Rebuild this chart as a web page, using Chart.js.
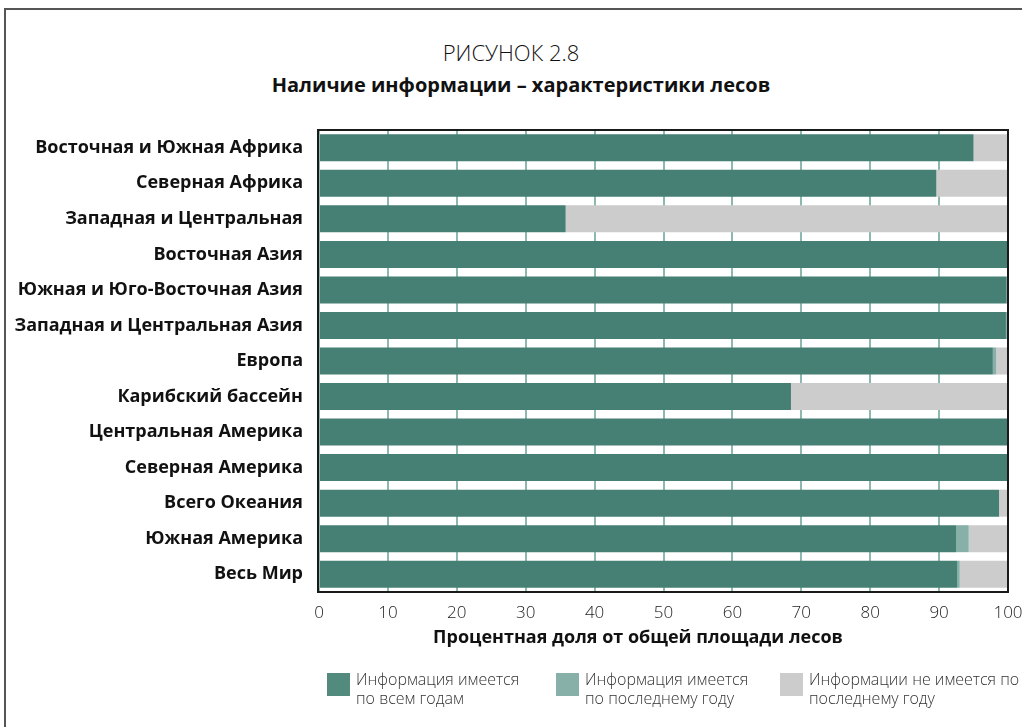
<!DOCTYPE html>
<html lang="ru">
<head>
<meta charset="utf-8">
<script src="https://cdn.jsdelivr.net/npm/chart.js@4"></script>
<style>
  html, body { margin: 0; padding: 0; background: #fff; }
  body { width: 1022px; height: 727px; position: relative; overflow: hidden; font-family: "Open Sans", "Noto Sans", sans-serif; color: #111; }
  #frame { position: absolute; left: 4px; top: 8px; width: 1100px; height: 800px; border: 2px solid #555; box-sizing: border-box; }
  #chartBox { position: absolute; left: 0; top: 0; width: 1022px; height: 727px; }
  .title1 { position: absolute; top: 37px; left: 0; width: 1022px; text-align: center; font-size: 22px; font-weight: 300; }
  .title2 { position: absolute; top: 71px; left: 10px; width: 1022px; text-align: center; font-size: 20px; font-weight: 700; }
  .legend-item { position: absolute; top: 673px; }
  .legend-item .box { position: absolute; left: 0; top: 0; width: 23px; height: 23px; }
  .legend-item .txt { position: absolute; left: 29px; top: -3px; font-size: 16px; line-height: 19px; font-weight: 300; color: #333; white-space: nowrap; }
</style>
</head>
<body>
<div id="frame"></div>
<div class="title1">РИСУНОК 2.8</div>
<div class="title2">Наличие информации – характеристики лесов</div>
<div id="chartBox"><canvas id="forestChart" width="1022" height="727"></canvas></div>
<div id="legend"></div>

<script>
// regions, top to bottom
const regions = [
    "Восточная и Южная Африка",
    "Северная Африка",
    "Западная и Центральная",
    "Восточная Азия",
    "Южная и Юго-Восточная Азия",
    "Западная и Центральная Азия",
    "Европа",
    "Карибский бассейн",
    "Центральная Америка",
    "Северная Америка",
    "Всего Океания",
    "Южная Америка",
    "Весь Мир"
];

// % of forest area
const allYears   = [95.0, 89.6, 35.8, 100, 99.8, 99.7, 97.8, 68.5, 100, 100, 98.7, 92.5, 92.6];
const latestYear = [0,    0,    0,    0,   0.2,  0.3,  0.5,  0,    0,   0,   0,    1.8,  0.4];
const noInfo     = [5.0,  10.4, 64.2, 0,   0,    0,    1.7,  31.5, 0,   0,   1.3,  5.7,  7.0];

const xTicks = [0, 10, 20, 30, 40, 50, 60, 70, 80, 90, 100];

const seriesNames = [
    ["Информация имеется", "по всем годам"],
    ["Информация имеется", "по последнему году"],
    ["Информации не имеется по", "последнему году"]
];
const barColors = ["#467f73", "#86b0a8", "#cccccc"];
const legendColors = ["#528a7e", "#86b0a8", "#cccccc"];
const legendX = [327, 556, 780];

// legend under the chart
const legendEl = document.getElementById('legend');
seriesNames.forEach(function (name, i) {
    const item = document.createElement('div');
    item.className = 'legend-item';
    item.style.left = legendX[i] + 'px';
    item.innerHTML = '<div class="box" style="background:' + legendColors[i] + '"></div>' +
        '<div class="txt">' + name.join('<br>') + '</div>';
    legendEl.appendChild(item);
});

// frame around the plot area + axis title
const plotFrame = {
    id: 'plotFrame',
    afterDatasetsDraw(chart) {
        const a = chart.chartArea;
        const c = chart.ctx;
        c.save();
        c.strokeStyle = '#1a1a1a';
        c.lineWidth = 2;
        c.strokeRect(a.left - 1, a.top, a.right - a.left + 1, a.bottom - a.top);
        c.restore();
    },
    afterDraw(chart) {
        const c = chart.ctx;
        c.save();
        c.font = 'bold 18px "Open Sans", "Noto Sans", sans-serif';
        c.fillStyle = '#111';
        c.textAlign = 'center';
        c.textBaseline = 'middle';
        c.fillText('Процентная доля от общей площади лесов', 638, 638);
        c.restore();
    }
};

const ctx = document.getElementById('forestChart').getContext('2d');
const chart = new Chart(ctx, {
    type: 'bar',
    data: {
        labels: regions,
        datasets: [
            { label: seriesNames[0].join(' '), data: allYears,   backgroundColor: barColors[0] },
            { label: seriesNames[1].join(' '), data: latestYear, backgroundColor: barColors[1] },
            { label: seriesNames[2].join(' '), data: noInfo,     backgroundColor: barColors[2] }
        ]
    },
    options: {
        indexAxis: 'y',
        responsive: false,
        animation: false,
        layout: {
            padding: { top: 130, right: 14, bottom: 95, left: 0 }
        },
        datasets: {
            bar: { categoryPercentage: 0.76, barPercentage: 1, borderWidth: 0 }
        },
        scales: {
            x: {
                stacked: true,
                min: 0,
                max: 100,
                afterFit: function (scale) {
                    scale.height = 40;
                    // let the "100" label hang past the plot edge
                    scale.paddingRight = 0;
                    scale.paddingLeft = 0;
                },
                afterBuildTicks: function (scale) {
                    scale.ticks = xTicks.map(function (v) { return { value: v }; });
                },
                grid: { color: '#8cb8b0', lineWidth: 2, drawTicks: false },
                border: { display: false },
                ticks: {
                    padding: 11,
                    color: '#222',
                    font: { family: '"Open Sans", "Noto Sans", sans-serif', size: 17, weight: 300 }
                }
            },
            y: {
                stacked: true,
                afterFit: function (scale) { scale.width = 319; },
                grid: { display: false, drawTicks: false },
                border: { display: false },
                ticks: {
                    padding: 16,
                    color: '#111',
                    font: { family: '"Open Sans", "Noto Sans", sans-serif', size: 18, weight: 'bold' }
                }
            }
        },
        plugins: {
            legend: { display: false },
            tooltip: { enabled: false }
        }
    },
    plugins: [plotFrame]
});
</script>
</body>
</html>
